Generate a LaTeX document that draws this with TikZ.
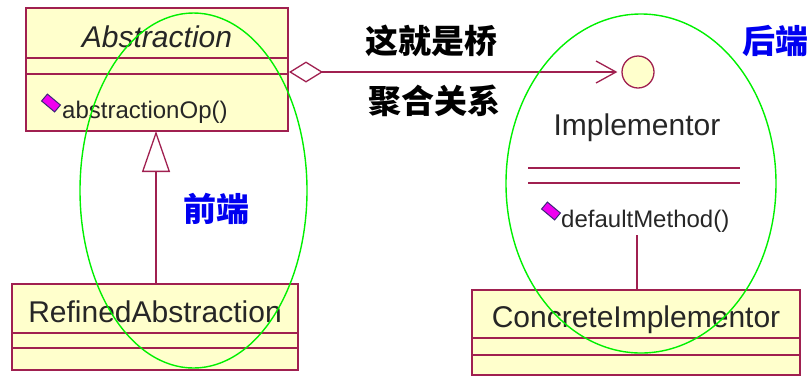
\documentclass[tikz,border=0pt]{standalone}
\usepackage{fontspec}
\setmainfont{Liberation Sans}
\newfontfamily\cjk{Noto Sans CJK SC}
\usetikzlibrary{arrows.meta,shapes.geometric}
\definecolor{umlred}{RGB}{160,32,80}
\definecolor{umlfill}{RGB}{255,255,204}
\definecolor{ellgreen}{RGB}{0,240,0}
\definecolor{cnblue}{RGB}{0,0,240}
\definecolor{iconpink}{RGB}{240,0,240}
\definecolor{iconedge}{RGB}{60,40,120}
\tikzset{
  classbox/.style={draw=umlred, fill=umlfill, line width=1.3pt, inner sep=0pt},
  sepline/.style={draw=umlred, line width=1.3pt},
  conn/.style={draw=umlred, line width=1.3pt},
  cname/.style={inner sep=0pt, font=\fontsize{30}{30}\selectfont, text=black!85},
  mname/.style={inner sep=0pt, font=\fontsize{24}{24}\selectfont, text=black!85},
  blacklbl/.style={inner sep=0pt, font=\cjk\bfseries\fontsize{33}{33}\selectfont},
  bluelbl/.style={inner sep=0pt, text=cnblue, font=\cjk\bfseries\fontsize{33}{33}\selectfont},
  ring/.style={draw=ellgreen, line width=1.4pt},
  opicon/.style={draw=iconedge, fill=iconpink, line width=1pt, minimum width=17pt, minimum height=9pt, inner sep=0pt, rotate=-40}
}
\begin{document}
\begin{tikzpicture}[x=1pt, y=-1pt]
\useasboundingbox (0,0) rectangle (808,376);
% Abstraction
\node[classbox, minimum width=262pt, minimum height=123pt] (abs) at (157,69.5) {};
\draw[sepline] (26,58) -- (288,58);
\draw[sepline] (26,74) -- (288,74);
\node[cname, anchor=base, font=\itshape\fontsize{30}{30}\selectfont] (absname) at (157,47) {Abstraction};
\node[opicon] (icon1) at (51,103) {};
\node[mname, anchor=base west] (absop) at (62,118) {abstractionOp()};
% RefinedAbstraction
\node[classbox, minimum width=286pt, minimum height=86pt] (ref) at (155,327) {};
\draw[sepline] (12,333) -- (298,333);
\draw[sepline] (12,348) -- (298,348);
\node[cname, anchor=base] (refname) at (155,322) {RefinedAbstraction};
% generalization
\coordinate (gentop) at (156,131);
\coordinate (genbot) at (156,284);
\draw[conn, -{Triangle[open, length=41pt, width=28pt, line width=1.3pt]}] (genbot) -- (gentop);
% Implementor interface
\node[circle, draw=umlred, fill=umlfill, line width=1.3pt, minimum size=32pt, inner sep=0pt] (iface) at (638,72) {};
\node[cname, anchor=base] (implname) at (637,135) {Implementor};
\draw[sepline] (528,168) -- (740,168);
\draw[sepline] (528,183) -- (740,183);
\node[opicon] (icon2) at (551,211) {};
\node[mname, anchor=base west] (implop) at (561,227) {defaultMethod()};
% aggregation
\coordinate (aggstart) at (289,72);
\draw[conn, {Diamond[open, length=34pt, width=21pt, line width=1.3pt]}-{Straight Barb[length=20pt, width=22pt, line width=1.3pt]}] (aggstart) -- ([xshift=-4pt]iface.west);
% ConcreteImplementor
\node[classbox, minimum width=328pt, minimum height=85pt] (conc) at (636,332.5) {};
\draw[sepline] (472,338) -- (800,338);
\draw[sepline] (472,355) -- (800,355);
\node[cname, anchor=base] (concname) at (636,327) {ConcreteImplementor};
\coordinate (realtop) at (637,235);
\draw[conn] (realtop) -- (conc.north -| realtop);
% ellipses
\node[ring, ellipse, minimum width=227pt, minimum height=355pt, inner sep=0pt] (leftring) at (193.5,190.5) {};
\node[ring, ellipse, minimum width=270pt, minimum height=339pt, inner sep=0pt] (rightring) at (641,183.5) {};
% labels
\node[blacklbl] (bridge) at (431,41) {这就是桥};
\node[blacklbl] (aggr) at (434,101) {聚合关系};
\node[bluelbl] (front) at (216,209) {前端};
\node[bluelbl] (back) at (775,41) {后端};
\end{tikzpicture}
\end{document}
